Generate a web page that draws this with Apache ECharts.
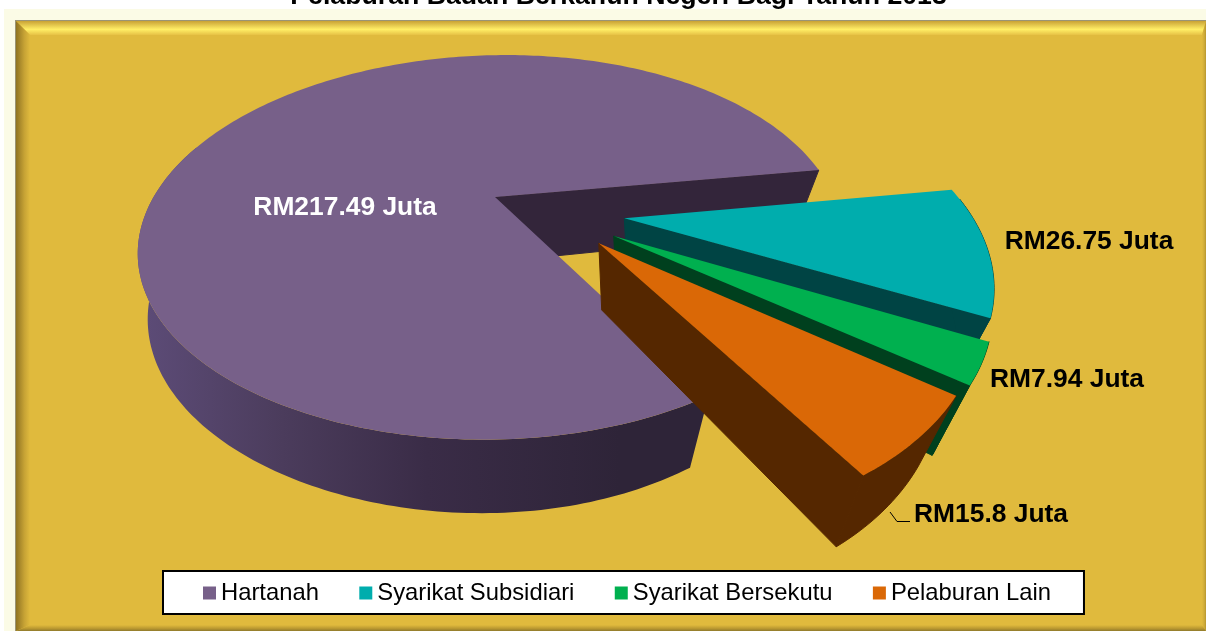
<!DOCTYPE html>
<html><head><meta charset="utf-8">
<style>html,body{margin:0;padding:0;background:#fff}#c{width:1206px;height:631px}</style>
<script src="https://cdn.jsdelivr.net/npm/echarts@6/dist/echarts.min.js"></script>
</head><body><div id="c"></div>
<script>
const titleText = 'Pelaburan Badan Berkanun Negeri Bagi Tahun 2013';
const categories = ['Hartanah', 'Syarikat Subsidiari', 'Syarikat Bersekutu', 'Pelaburan Lain'];
const values = [217.49, 26.75, 7.94, 15.8];
const valueLabels = ['RM217.49 Juta', 'RM26.75 Juta', 'RM7.94 Juta', 'RM15.8 Juta'];

const topColors = ['#776089', '#00ADAD', '#00B04F', '#DA6806'];
const wallColors = ['#33253A', '#004444', '#00401E', '#552700'];
const labelColors = ['#fff', '#000', '#000', '#000'];

// Perspective of the pie: top and bottom discs of the cylinder (unit-circle world coordinates)
const topDisc = {cx: 495, cy: 197, A: 340.5, B: 179, p: 0.262, q: 0.012, r: 6, ex: 1};
const botDisc = {cx: 495, cy: 262, A: 323, B: 190, p: 0.243, q: 0.04, r: 8, ex: 1.1};
const firstAngle = 83;                       // clockwise from the far side, degrees
const explodeDist = [0, 0.39, 0.395, 0.38];
const explodeTurn = [0, 8, -1, -9];          // direction correction in degrees
const labelPos = [[345, 208], [1089, 242], [1067, 380], [991, 515]];

function project(d, X, Y) {
  const ky = 1 + d.p * Y, kx = ky + d.q * X;
  return [d.cx + d.A * X / kx, d.cy - (d.B * Y + d.r * X) / ky];
}
const rad = a => a * Math.PI / 180;
const total = values.reduce((a, b) => a + b, 0);
// slice i runs from angle start to end; the first slice is the large one which closes the circle
function sliceAngles(i) {
  let s = firstAngle - values[0] / total * 360;
  for (let j = 0; j < i; j++) s += values[j] / total * 360;
  return [s, s + values[i] / total * 360];
}
function renderSlice(i, api) {
  const [s, e] = sliceAngles(i);
  const mid = rad((s + e) / 2 + explodeTurn[i]);
  const ox = explodeDist[i] * Math.sin(mid), oy = explodeDist[i] * Math.cos(mid);
  const arcTop = [], arcBot = [];
  const n = Math.max(8, Math.ceil(e - s));
  for (let k = 0; k <= n; k++) {
    const a = rad(s + (e - s) * k / n);
    arcTop.push(project(topDisc, ox * topDisc.ex + Math.sin(a), oy + Math.cos(a)));
    arcBot.push(project(botDisc, ox * botDisc.ex + Math.sin(a), oy + Math.cos(a)));
  }
  const apexT = project(topDisc, ox * topDisc.ex, oy), apexB = project(botDisc, ox * botDisc.ex, oy);
  const children = [];
  const poly = (pts, fill) => children.push({type: 'polygon', shape: {points: pts}, style: {fill, stroke: typeof fill === 'string' ? fill : null, lineWidth: 1}});
  const wallFill = i === 0
    ? new echarts.graphic.LinearGradient(138, 0, 620, 0, [
        {offset: 0, color: '#5d4c78'}, {offset: 0.3, color: '#4b3c5c'},
        {offset: 0.6, color: '#3a2c47'}, {offset: 1, color: '#2e2438'}], true)
    : wallColors[i];
  // cut wall
  poly([apexT, arcTop[n], arcBot[n], apexB], wallColors[i]);
  // outer rim
  const rimT = [], rimB = [];
  for (let k = 0; k <= n; k++) {
    const a = s + (e - s) * k / n, norm = ((a % 360) + 360) % 360;
    if (norm > 85 && norm < 290) { rimT.push(arcTop[k]); rimB.push(arcBot[k]); }
  }
  if (rimT.length > 1) poly(rimT.concat(rimB.slice().reverse()), wallFill);
  // top face
  children.push({type: 'polygon', shape: {points: [apexT].concat(arcTop)}, style: {fill: topColors[i]}});
  children.push({type: 'text', z2: 20, style: {
    x: labelPos[i][0], y: labelPos[i][1], text: valueLabels[i], align: 'center', verticalAlign: 'middle',
    fill: labelColors[i], font: 'bold 26.4px "Liberation Sans", Arial, sans-serif'}});
  if (i === 3) children.push({type: 'polyline', z2: 20, shape: {points: [[890, 512], [897, 521.5], [910, 521.5]]},
    style: {stroke: '#000', lineWidth: 1, fill: null}});
  return {type: 'group', children};
}

const bevel = (pts, x1, y1, x2, y2, c1, c2, c3) => ({type: 'polygon', silent: true, shape: {points: pts}, style: {
  fill: new echarts.graphic.LinearGradient(x1, y1, x2, y2, [{offset: 0, color: c1}, {offset: 0.6, color: c2}, {offset: 1, color: c3}], true)}});
const L = 16, T = 21, R = 1206, B = 631, I = 14, BG = '#E0BA3D';

const chart = echarts.init(document.getElementById('c'), null, {renderer: 'canvas'});
chart.setOption({
  animation: false,
  backgroundColor: '#fff',
  title: {text: titleText, left: 613.5, top: -22, textAlign: 'center',
    textStyle: {color: '#000', fontFamily: '"Liberation Sans", Arial', fontWeight: 'bold', fontSize: 26.7}},
  legend: {
    left: 163, top: 571, orient: 'horizontal', data: categories, icon: 'rect',
    itemWidth: 13, itemHeight: 13, itemGap: 40.4, selectedMode: false,
    padding: [10, 33, 9, 40], backgroundColor: '#fff', borderColor: '#000', borderWidth: 2, borderRadius: 0,
    textStyle: {color: '#000', fontFamily: '"Liberation Sans", Arial', fontSize: 23.8}
  },
  graphic: {elements: [
    {type: 'rect', z: -10, silent: true, shape: {x: 4, y: 9, width: 1202, height: 622}, style: {fill: '#FBFBE6'}},
    {type: 'rect', z: -9, silent: true, shape: {x: L - 1, y: T - 1, width: R - L + 1, height: B - T + 1}, style: {fill: '#9a9476'}},
    {type: 'rect', z: -8, silent: true, shape: {x: L, y: T, width: R - L, height: B - T}, style: {fill: BG}},
    Object.assign(bevel([[L, T], [R, T], [R - 4, T + I], [L + I, T + I]], 0, T, 0, T + I, '#C9A235', '#FFEE66', '#E6C145'), {z: -7}),
    Object.assign(bevel([[L, T], [L + I, T + I], [L + I, B - 6], [L, B]], L, 0, L + I, 0, '#8f7322', '#C7A335', BG), {z: -7}),
    Object.assign(bevel([[R, T], [R - 4, T + I], [R - 4, B - 6], [R, B]], R - 4, 0, R, 0, BG, '#cdaa38', '#b7962f'), {z: -7}),
    Object.assign(bevel([[L, B], [L + I, B - 6], [R - 4, B - 6], [R, B]], 0, B - 6, 0, B, BG, '#b89730', '#8f7a2c'), {z: -7})
  ]},
  series: categories.map((name, i) => ({
    type: 'custom', name, coordinateSystem: 'none', z: 2 + i,
    itemStyle: {color: topColors[i]},
    data: [values[i]],
    renderItem: (params, api) => renderSlice(i, api)
  }))
});
</script></body></html>
